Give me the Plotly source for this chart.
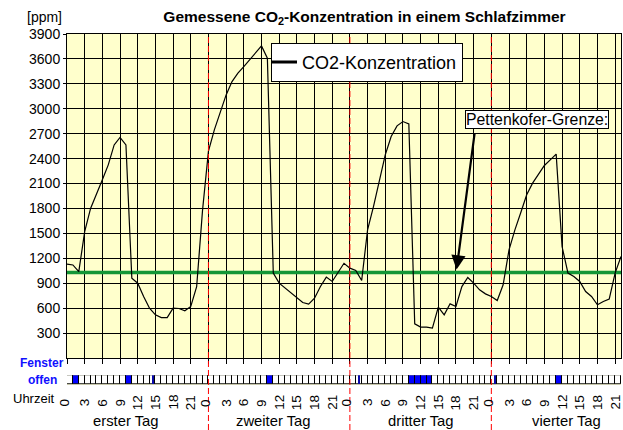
import plotly.graph_objects as go

# ---------------- data ----------------
hours = list(range(0, 95))
co2_ppm = [1130, 1120, 1040, 1520, 1800, 1985, 2145, 2325, 2565, 2655, 2565, 960, 900, 740, 600, 520, 487, 487, 600, 596, 568, 620, 860, 1780,
           2490, 2746, 2966, 3167, 3327, 3428, 3508, 3588, 3669, 3757, 3609, 1022, 901, 841, 781, 721, 668, 648, 720, 860, 974, 921, 1035, 1140,
           1082, 1053, 933, 1543, 1823, 2144, 2445, 2666, 2794, 2846, 2818, 411, 372, 371, 360, 612, 520, 652, 620, 860, 969, 901, 821, 772,
           740, 692, 881, 1302, 1543, 1751, 1964, 2105, 2205, 2317, 2385, 2454, 1342, 1022, 981, 921, 800, 740, 640, 680, 709, 1022, 1222]
pettenkofer_limit = 1030

cell_hours = list(range(0, 94))
window_open = [1, 10, 34, 58, 59, 60, 61, 83]
window_partly = [14, 49, 72]

tick_hours = list(range(0, 94, 3))
tick_labels = [str(h % 24) for h in tick_hours]
y_ticks = list(range(300, 4000, 300))
day_bounds = [24, 48, 72]
day_names = ["erster Tag", "zweiter Tag", "dritter Tag", "vierter Tag"]
day_label_pos = [10, 35, 60, 84.7]

FONT = "Arial, Liberation Sans, sans-serif"
W, H = 623, 430
ML, MR, MT, MB = 67, 2, 34, 0

def py(p):  # pixel y -> paper
    return (H - MB - p) / (H - MT - MB)

def px(p):
    return (p - ML) / (W - ML - MR)

fig = go.Figure()

# Pettenkofer line
fig.add_trace(go.Scatter(x=[0, 94], y=[pettenkofer_limit, pettenkofer_limit], mode="lines",
                         line=dict(color="rgb(20,150,55)", width=3.5), showlegend=False,
                         hoverinfo="skip", xaxis="x", yaxis="y"))
# CO2 curve
fig.add_trace(go.Scatter(x=hours, y=co2_ppm, mode="lines", line=dict(color="black", width=1.2),
                         showlegend=False, name="CO2-Konzentration", xaxis="x", yaxis="y"))
# legend proxy
fig.add_trace(go.Scatter(x=[None], y=[None], mode="lines", line=dict(color="black", width=3),
                         name="CO2-Konzentration", showlegend=True, xaxis="x", yaxis="y"))

# window cells
cell_colors = ["blue" if h in window_open else "white" for h in cell_hours]
fig.add_trace(go.Bar(x=[h + 0.5 for h in cell_hours], y=[1] * len(cell_hours), width=1,
                     marker=dict(color=cell_colors, line=dict(color="black", width=1)),
                     showlegend=False, xaxis="x2", yaxis="y2", hoverinfo="skip"))
fig.add_trace(go.Bar(x=[h + 0.6 for h in window_partly], y=[0.9] * len(window_partly), base=0.05, width=0.35,
                     marker=dict(color="rgb(10,10,170)", line=dict(width=0)),
                     showlegend=False, xaxis="x2", yaxis="y2", hoverinfo="skip"))

annotations = []
# [ppm]
annotations.append(dict(text="[ppm]", x=px(44.5), y=py(17), xref="paper", yref="paper", showarrow=False,
                        font=dict(size=14, color="black", family=FONT), xanchor="center", yanchor="middle"))
# Fenster offen
annotations.append(dict(text="<b>Fenster</b>", x=px(42), y=py(363), xref="paper", yref="paper", showarrow=False,
                        font=dict(size=12, color="#1010FF", family=FONT), xanchor="center", yanchor="middle"))
annotations.append(dict(text="<b>offen</b>", x=px(42), y=py(380), xref="paper", yref="paper", showarrow=False,
                        font=dict(size=12, color="#1010FF", family=FONT), xanchor="center", yanchor="middle"))
annotations.append(dict(text="Uhrzeit", x=px(34), y=py(398), xref="paper", yref="paper", showarrow=False,
                        font=dict(size=13, color="black", family=FONT), xanchor="center", yanchor="middle"))
for h, lab in zip(tick_hours, tick_labels):
    annotations.append(dict(text=lab, x=h, y=py(402.5), xref="x", yref="paper", showarrow=False, textangle=-90,
                            xshift=(-3 if lab == "0" else 0), font=dict(size=13.5, color="black", family=FONT),
                            xanchor="center", yanchor="middle"))
for xpos, name in zip(day_label_pos, day_names):
    annotations.append(dict(text=name, x=xpos, y=py(421), xref="x", yref="paper", showarrow=False,
                            font=dict(size=14.8, color="black", family=FONT), xanchor="center", yanchor="middle"))
# Pettenkofer box + arrow
annotations.append(dict(text="Pettenkofer-Grenze:", x=px(537), y=py(119.2), xref="paper", yref="paper",
                        showarrow=False, bgcolor="white", bordercolor="black", borderwidth=1, borderpad=0,
                        font=dict(size=15.8, color="black", family=FONT), xanchor="center", yanchor="middle"))
annotations.append(dict(text="", x=66.1, y=1065, xref="x", yref="y", ax=69.2, ay=2724, axref="x", ayref="y",
                        showarrow=True, arrowhead=2, arrowsize=1.3, arrowwidth=2.2, arrowcolor="black"))

shapes = []
for d in day_bounds:
    shapes.append(dict(type="line", x0=d, x1=d, y0=0, y1=1, xref="x", yref="paper",
                       line=dict(color="red", width=1, dash="6px,3px"), layer="above"))

fig.update_layout(
    width=W, height=H,
    margin=dict(l=ML, r=MR, t=MT, b=MB),
    paper_bgcolor="white",
    plot_bgcolor="#FFFFCC",
    font=dict(family=FONT, color="black"),
    title=dict(text="<b>Gemessene CO<sub>2</sub>-Konzentration in einem Schlafzimmer</b>",
               x=364.5 / W, y=1 - 16.5 / H, xref="container", yref="container",
               xanchor="center", yanchor="middle", font=dict(size=15.5, color="black", family=FONT)),
    xaxis=dict(range=[0, 94], domain=[0, 1], anchor="y", tickvals=tick_hours, showticklabels=False,
               ticks="outside", ticklen=5, tickcolor="black", tickwidth=1,
               showgrid=True, gridcolor="black", gridwidth=1, showline=True, linecolor="black",
               linewidth=1, mirror=True, zeroline=False, fixedrange=True),
    yaxis=dict(range=[0, 3900], domain=[py(358), 1], anchor="x", tickvals=y_ticks,
               ticks="outside", ticklen=3, tickcolor="black",
               tickfont=dict(size=14, color="black", family=FONT),
               showgrid=True, gridcolor="black", gridwidth=1, showline=True, linecolor="black",
               linewidth=1, mirror=True, zeroline=False, fixedrange=True),
    xaxis2=dict(range=[0, 94], domain=[0, 1], anchor="y2", matches="x", showticklabels=False,
                showgrid=False, zeroline=False, showline=False, ticks=""),
    yaxis2=dict(range=[0, 1], domain=[py(384.7), py(375.3)], anchor="x2", visible=False),
    bargap=0,
    legend=dict(x=px(271), y=py(42.7), xanchor="left", yanchor="top", bgcolor="white",
                bordercolor="black", borderwidth=1, font=dict(size=18, color="black", family=FONT),
                itemwidth=30, tracegroupgap=0, indentation=-10),
    annotations=annotations,
    shapes=shapes,
    showlegend=True,
)

fig.write_html("out.html", config={"displayModeBar": False},
               post_script="document.body.style.margin='0';document.body.style.padding='0';")
